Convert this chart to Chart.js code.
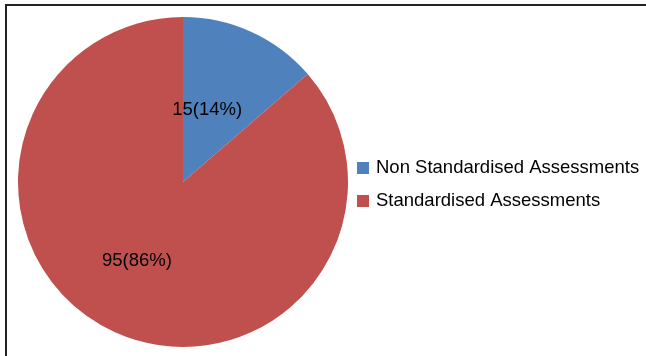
<!DOCTYPE html>
<html>
<head>
<meta charset="utf-8">
<script src="https://cdn.jsdelivr.net/npm/chart.js@4"></script>
<style>
  html, body { margin: 0; padding: 0; background: #fff; }
  #wrap { position: relative; width: 646px; height: 356px; }
</style>
</head>
<body>
<div id="wrap"><canvas id="pieChart" width="646" height="356"></canvas></div>
<script>
// chart values
const categories = ['Non Standardised Assessments', 'Standardised Assessments'];
const counts = [15, 95];
const percents = [14, 86];
const colors = ['#4F81BD', '#C0504D'];

const FONT = '"Liberation Sans", Arial, sans-serif';

// frame lines (top and left, the rest is cropped off)
const framePlugin = {
    id: 'frame',
    afterDraw(chart) {
        const c = chart.ctx;
        c.save();
        c.strokeStyle = '#222';
        c.lineWidth = 2;
        c.beginPath();
        c.moveTo(6, 360);
        c.lineTo(6, 5);
        c.lineTo(646, 5);
        c.stroke();
        c.restore();
    }
};

// value labels inside slices
const labelPlugin = {
    id: 'sliceLabels',
    afterDatasetsDraw(chart) {
        const c = chart.ctx;
        const meta = chart.getDatasetMeta(0);
        const spots = [[0.46, -6], [0.554, 5.7]]; // radius fraction, angle shift (deg)
        c.save();
        c.font = '18.5px ' + FONT;
        c.fillStyle = '#000';
        c.textAlign = 'center';
        c.textBaseline = 'middle';
        meta.data.forEach((arc, i) => {
            const mid = (arc.startAngle + arc.endAngle) / 2 + spots[i][1] * Math.PI / 180;
            const r = arc.outerRadius * spots[i][0];
            const x = arc.x + Math.cos(mid) * r;
            const y = arc.y + Math.sin(mid) * r;
            c.fillText(counts[i] + '(' + percents[i] + '%)', x, y);
        });
        c.restore();
    }
};

// legend on the right
const legendPlugin = {
    id: 'sideLegend',
    afterDraw(chart) {
        const c = chart.ctx;
        c.save();
        c.font = '18.5px ' + FONT;
        c.textBaseline = 'middle';
        categories.forEach((name, i) => {
            const y = 168 + i * 33;
            c.fillStyle = colors[i];
            c.fillRect(357, y - 6, 12, 12);
            c.fillStyle = '#000';
            c.fillText(name, 376, y);
        });
        c.restore();
    }
};

const ctx = document.getElementById('pieChart').getContext('2d');
new Chart(ctx, {
    type: 'pie',
    data: {
        labels: categories,
        datasets: [{
            data: counts,
            backgroundColor: colors,
            borderWidth: 0
        }]
    },
    options: {
        responsive: false,
        animation: false,
        layout: { padding: { top: 17, bottom: 9, left: 18, right: 298 } },
        plugins: {
            legend: { display: false },
            tooltip: { enabled: false }
        }
    },
    plugins: [framePlugin, labelPlugin, legendPlugin]
});
</script>
</body>
</html>
